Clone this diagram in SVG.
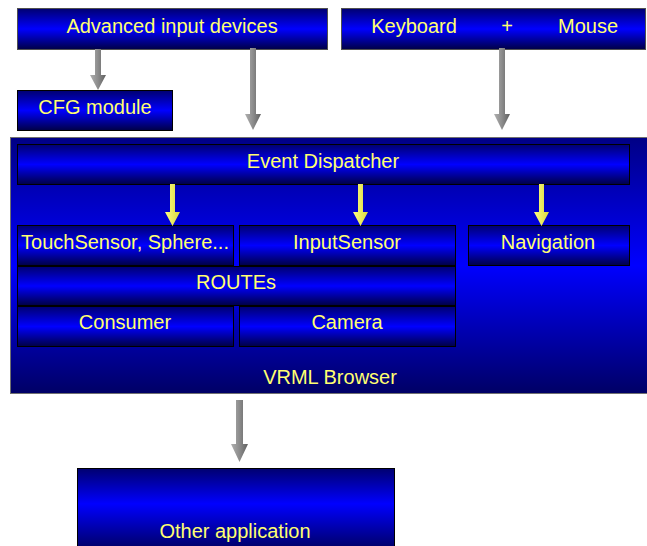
<svg xmlns="http://www.w3.org/2000/svg" width="647" height="546" viewBox="0 0 647 546">
<defs>
<linearGradient id="gBox" x1="0" y1="0" x2="0" y2="1">
<stop offset="0" stop-color="#000070"/>
<stop offset="0.5" stop-color="#0000ff"/>
<stop offset="1" stop-color="#000045"/>
</linearGradient>
<linearGradient id="gOther" x1="0" y1="0" x2="0" y2="1">
<stop offset="0" stop-color="#000070"/>
<stop offset="0.43" stop-color="#0000ff"/>
<stop offset="1" stop-color="#000060"/>
</linearGradient>
<linearGradient id="gBig" x1="0" y1="0" x2="0" y2="1">
<stop offset="0" stop-color="#000085"/>
<stop offset="0.5" stop-color="#0000ff"/>
<stop offset="1" stop-color="#000065"/>
</linearGradient>
<linearGradient id="gGray" x1="0" y1="0" x2="1" y2="0">
<stop offset="0" stop-color="#b0b0b0"/>
<stop offset="0.5" stop-color="#8c8c8c"/>
<stop offset="1" stop-color="#606060"/>
</linearGradient>
<linearGradient id="gYel" x1="0" y1="0" x2="1" y2="0">
<stop offset="0" stop-color="#ffff80"/>
<stop offset="1" stop-color="#d8d840"/>
</linearGradient>
</defs>
<style>
.box{fill:url(#gBox);stroke:#000;stroke-width:1}
.top{fill:url(#gBox);stroke:#505050;stroke-width:1}
.t{font-family:"Liberation Sans",Arial,sans-serif;font-size:20px;fill:#ffff70;text-anchor:middle}
.ga{fill:url(#gGray)}
.ya{fill:url(#gYel)}
</style>
<rect width="647" height="546" fill="#fff"/>

<g id="advanced">
<rect class="top" x="17.5" y="8.5" width="310" height="41"/>
<text class="t" x="172" y="33">Advanced input devices</text>
</g>
<g id="keyboard-mouse">
<rect class="top" x="341.5" y="8.5" width="304" height="41"/>
<text class="t" y="33"><tspan x="414">Keyboard</tspan><tspan x="507">+</tspan><tspan x="588">Mouse</tspan></text>
</g>
<g id="cfg">
<rect class="box" x="17.5" y="90.5" width="155" height="40"/>
<text class="t" x="95" y="114">CFG module</text>
</g>

<g id="vrml-browser">
<rect x="10.5" y="137.5" width="640" height="256" fill="url(#gBig)" stroke="#707070" stroke-width="1"/>
<text class="t" x="330" y="384">VRML Browser</text>
</g>
<g id="event-dispatcher">
<rect class="box" x="17.5" y="144.5" width="612" height="40"/>
<text class="t" x="323" y="168">Event Dispatcher</text>
</g>
<g id="touchsensor">
<rect class="box" x="17.5" y="225.5" width="216" height="40"/>
<text class="t" x="125" y="249">TouchSensor, Sphere...</text>
</g>
<g id="inputsensor">
<rect class="box" x="239.5" y="225.5" width="216" height="40"/>
<text class="t" x="347" y="249">InputSensor</text>
</g>
<g id="navigation">
<rect class="box" x="468.5" y="225.5" width="161" height="40"/>
<text class="t" x="548" y="249">Navigation</text>
</g>
<g id="routes">
<rect class="box" x="17.5" y="266.5" width="438" height="39"/>
<text class="t" x="236" y="289">ROUTEs</text>
</g>
<g id="consumer">
<rect class="box" x="17.5" y="306.5" width="216" height="40"/>
<text class="t" x="125" y="329">Consumer</text>
</g>
<g id="camera">
<rect class="box" x="239.5" y="306.5" width="216" height="40"/>
<text class="t" x="347" y="329">Camera</text>
</g>
<g id="other-application">
<rect x="77.5" y="468.5" width="317" height="82" fill="url(#gOther)" stroke="#000" stroke-width="1"/>
<text class="t" x="235" y="538">Other application</text>
</g>

<g id="connectors">
<path class="ga" d="M95,49 H101 V75 H106 L98,90 L90,75 H95 Z"/>
<path class="ga" d="M250,48 H256 V114 H261 L253,130 L245,114 H250 Z"/>
<path class="ga" d="M499,48 H505 V114 H510 L502,130 L494,114 H499 Z"/>
<path class="ga" d="M236,400 H243 V444 H248 L239.5,462 L231,444 H236 Z"/>
<path class="ya" d="M170,184 H175 V212 H180 L172.5,226 L165,212 H170 Z"/>
<path class="ya" d="M358,184 H363 V212 H368 L360.5,226 L353,212 H358 Z"/>
<path class="ya" d="M539,184 H544 V212 H549 L541.5,226 L534,212 H539 Z"/>
</g>
</svg>
